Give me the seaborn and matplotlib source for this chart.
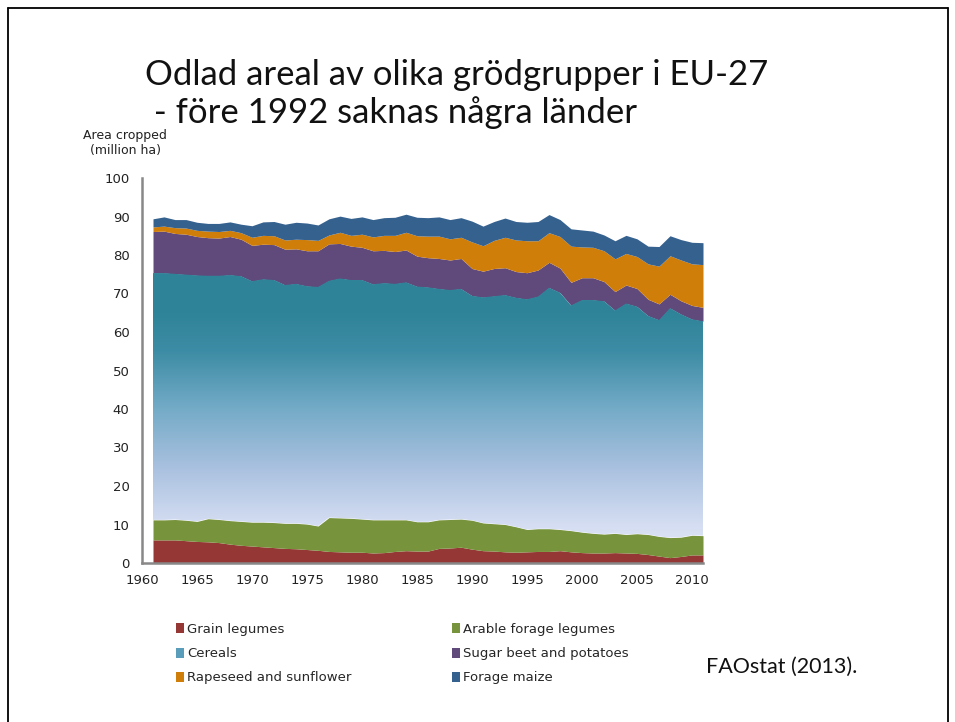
import numpy as np
import matplotlib.pyplot as plt
import matplotlib.colors as mcolors
from matplotlib.lines import Line2D
from matplotlib.patches import Patch
import seaborn as sns

# Data (million ha), 1961-2011
years = list(range(1961, 2012))

grain_legumes = [6.0, 6.0, 6.0, 5.8, 5.6, 5.5, 5.3, 4.9, 4.6, 4.4,
                 4.2, 4.0, 3.8, 3.7, 3.5, 3.3, 3.0, 2.9, 2.8, 2.8,
                 2.6, 2.7, 3.0, 3.2, 3.1, 3.1, 3.8, 3.9, 4.1, 3.6,
                 3.2, 3.1, 2.9, 2.8, 2.9, 3.0, 3.0, 3.2, 2.9, 2.7,
                 2.6, 2.6, 2.7, 2.6, 2.5, 2.2, 1.8, 1.4, 1.7, 2.1, 2.1]

forage_legumes = [5.2, 5.2, 5.3, 5.3, 5.2, 6.0, 6.0, 6.1, 6.2, 6.2,
                  6.4, 6.5, 6.5, 6.6, 6.6, 6.3, 8.8, 8.8, 8.8, 8.6,
                  8.6, 8.5, 8.2, 8.0, 7.6, 7.6, 7.4, 7.4, 7.3, 7.5,
                  7.2, 7.1, 7.1, 6.6, 5.8, 5.9, 5.9, 5.5, 5.5, 5.3,
                  5.1, 4.9, 5.0, 4.8, 5.1, 5.2, 5.1, 5.2, 5.0, 5.1, 5.0]

cereals = [64.1, 64.1, 63.8, 63.8, 63.9, 63.1, 63.3, 63.8, 63.7, 62.6,
           63.1, 63.0, 61.9, 62.2, 61.8, 62.1, 61.5, 62.2, 61.9, 62.1,
           61.2, 61.5, 61.3, 61.7, 61.1, 60.9, 60.0, 59.6, 59.8, 58.3,
           58.6, 59.1, 59.6, 59.5, 59.8, 60.3, 62.6, 61.5, 58.5, 60.3,
           60.6, 60.5, 57.9, 60.0, 59.0, 56.8, 56.2, 59.6, 57.9, 56.1, 55.7]

sugar_beet = [10.8, 10.9, 10.5, 10.5, 10.1, 9.9, 9.8, 10.0, 9.6, 9.3,
              9.1, 9.2, 9.3, 9.1, 9.2, 9.4, 9.6, 9.1, 8.8, 8.5,
              8.7, 8.5, 8.4, 8.4, 7.9, 7.7, 7.9, 7.8, 7.9, 7.1,
              6.8, 7.2, 7.1, 6.8, 6.9, 6.9, 6.6, 6.4, 6.0, 5.8,
              5.8, 5.1, 4.9, 4.8, 4.7, 4.3, 4.2, 3.6, 3.5, 3.6, 3.6]

rapeseed = [1.2, 1.3, 1.5, 1.6, 1.6, 1.7, 1.7, 1.6, 1.7, 2.1,
            2.3, 2.3, 2.4, 2.5, 2.9, 2.7, 2.3, 2.9, 2.8, 3.4,
            3.6, 3.9, 4.2, 4.6, 5.3, 5.6, 5.8, 5.5, 5.5, 6.9,
            6.6, 7.3, 7.9, 8.2, 8.3, 7.6, 7.7, 8.2, 9.4, 8.0,
            7.9, 8.0, 8.5, 8.2, 8.3, 9.2, 9.8, 10.0, 10.6, 10.8, 11.1]

forage_maize = [2.1, 2.4, 2.1, 2.2, 2.1, 2.0, 2.1, 2.2, 2.2, 3.0,
                3.5, 3.7, 4.1, 4.4, 4.3, 4.0, 4.2, 4.2, 4.4, 4.5,
                4.5, 4.6, 4.7, 4.7, 4.8, 4.8, 5.0, 5.0, 5.1, 5.4,
                5.1, 4.9, 5.0, 4.8, 4.8, 5.0, 4.7, 4.4, 4.5, 4.4,
                4.2, 4.1, 4.7, 4.7, 4.6, 4.6, 5.1, 5.2, 5.3, 5.6, 5.7]

labels = ['Grain legumes', 'Arable forage legumes', 'Cereals',
          'Sugar beet and potatoes', 'Rapeseed and sunflower', 'Forage maize']
colors = ['#953735', '#77933c', '#3a8aa3', '#604a7b', '#d07e0a', '#35618f']

sns.set_style('white')
plt.rcParams['font.family'] = ['DejaVu Sans']

fig = plt.figure(figsize=(9.55, 7.22), dpi=100)
ax = fig.add_axes([142 / 955, 1 - 563 / 722, 561 / 955, 385 / 722])

polys = ax.stackplot(years, grain_legumes, forage_legumes, cereals,
                     sugar_beet, rapeseed, forage_maize,
                     colors=colors, linewidth=0)

# Cereals get a vertical gradient, dark teal at the top fading to pale blue
cereal_poly = polys[2]
cereal_poly.set_facecolor('none')
grad_cmap = mcolors.LinearSegmentedColormap.from_list(
    'cereal', [(0.0, '#e4e9f7'), (0.1, '#d4ddf2'), (0.25, '#a8c0df'),
               (0.4, '#74abc7'), (0.55, '#3d8ca5'), (0.65, '#2f8499'),
               (1.0, '#2e8298')])
grad = np.linspace(0, 1, 256).reshape(-1, 1)
img = ax.imshow(grad, cmap=grad_cmap, origin='lower', aspect='auto',
                extent=[1960, 2011, 0, 100], zorder=cereal_poly.get_zorder())
img.set_clip_path(cereal_poly.get_paths()[0], transform=ax.transData)

ax.set_xlim(1960, 2011)
ax.set_ylim(0, 100)
ax.set_xticks(range(1960, 2011, 5))
ax.set_xticks(range(1960, 2012), minor=True)
ax.set_yticks(range(0, 101, 10))

for side in ['top', 'right']:
    ax.spines[side].set_visible(False)
for side in ['left', 'bottom']:
    ax.spines[side].set_color('#888888')
    ax.spines[side].set_linewidth(1.8)

ax.tick_params(axis='both', which='major', direction='out', length=5,
               width=1.2, color='#888888', labelsize=9.5, labelcolor='#222222')
ax.tick_params(axis='x', which='minor', direction='out', length=3,
               width=1.0, color='#888888')
ax.tick_params(axis='y', pad=4)
ax.tick_params(axis='x', pad=3)

# Axis title in the top-left corner
fig.text(125 / 955, 1 - 143 / 722, 'Area cropped\n(million ha)',
         ha='center', va='center', fontsize=9, color='#222222',
         linespacing=1.2)

# Slide title
fig.text(145 / 955, 1 - 85 / 722, 'Odlad areal av olika grödgrupper i EU-27',
         ha='left', va='baseline', fontsize=25, family='Lato', color='#111111')
fig.text(145 / 955, 1 - 123 / 722, ' - före 1992 saknas några länder',
         ha='left', va='baseline', fontsize=25, family='Lato', color='#111111')

# Source
fig.text(706 / 955, 1 - 673 / 722, 'FAOstat (2013).', ha='left',
         va='baseline', fontsize=15.5, family='Lato', color='#111111')

# Legend: fill column-major so it reads row by row like the original
legend_colors = colors[:2] + ['#5a9dbb'] + colors[3:]
handles = [Patch(facecolor=c, edgecolor='none') for c in legend_colors]
order = [0, 2, 4, 1, 3, 5]
fig.legend([handles[i] for i in order], [labels[i] for i in order],
           ncol=2, loc='upper left', bbox_to_anchor=(176 / 955, 1 - 623 / 722),
           frameon=False, fontsize=9.5, handlelength=0.6, handleheight=0.8,
           handletextpad=0.25, labelspacing=0.85, columnspacing=7.6,
           borderaxespad=0, borderpad=0)

# Slide border
for xs, ys in [([8, 8], [722, 8]), ([8, 948], [8, 8]), ([948, 948], [8, 722])]:
    fig.add_artist(Line2D([x / 955 for x in xs], [1 - y / 722 for y in ys],
                          color='black', linewidth=1.3))

fig.savefig('out.png', dpi=100)
